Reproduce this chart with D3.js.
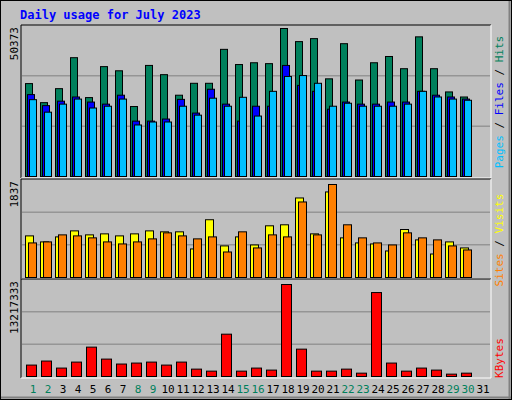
<!DOCTYPE html>
<html><head><meta charset="utf-8">
<script src="https://cdn.jsdelivr.net/npm/d3@7"></script>
<style>body{margin:0;background:#fff}</style>
</head><body>
<script>
const days = d3.range(1, 32)
const weekend = [1, 2, 8, 9, 15, 16, 22, 23, 29, 30]
const hits = [31200, 24800, 29500, 39900, 26500, 36900, 35500, 23500, 37300, 34200, 27300, 31300, 31300, 42700, 37600, 38200, 37900, 49700, 45300, 46300, 32800, 44600, 32400, 38200, 40300, 36200, 46900, 36200, 28400, 26700, 0]
const files = [27500, 23800, 25300, 26700, 25000, 24300, 27300, 18600, 18600, 19300, 25900, 21300, 29300, 24300, 18600, 23600, 23600, 37300, 30600, 28600, 22600, 25000, 24300, 24300, 25000, 25000, 28600, 27300, 26700, 26000, 0]
const pages = [25800, 21600, 24300, 26000, 23000, 23600, 26000, 17300, 18300, 18300, 23600, 20600, 26300, 23600, 26600, 20300, 28600, 33600, 33900, 31300, 23600, 24600, 23600, 23600, 23600, 24300, 28600, 26700, 26000, 25600, 0]
const visits = [822, 703, 802, 921, 842, 862, 822, 862, 921, 902, 902, 564, 1141, 624, 802, 643, 1021, 1041, 1571, 862, 1690, 783, 683, 663, 524, 948, 743, 464, 703, 584, 0]
const sites = [683, 703, 842, 822, 783, 703, 663, 703, 763, 882, 822, 763, 802, 504, 902, 584, 842, 802, 1492, 842, 1837, 1041, 783, 683, 643, 882, 783, 743, 624, 544, 0]
const kbytes = [1640000, 2220000, 1210000, 2070000, 4220000, 2500000, 1790000, 1930000, 2070000, 1640000, 2070000, 1060000, 770000, 6080000, 770000, 1210000, 920000, 13217333, 3930000, 770000, 770000, 1060000, 480000, 12060000, 1930000, 770000, 1210000, 920000, 340000, 480000, 0]

const W = 512, H = 400
const svg = d3.select('body').append('svg').attr('width', W).attr('height', H)
  .style('font-family', 'DejaVu Sans Mono, monospace')
svg.append('rect').attr('width', W).attr('height', H).attr('fill', '#c0c0c0')
svg.append('rect').attr('x', 0.5).attr('y', 0.5).attr('width', W - 1).attr('height', H - 1)
  .attr('fill', 'none').attr('stroke', '#000')
svg.append('line').attr('x1', 1).attr('x2', W - 1).attr('y1', H - 2.5).attr('y2', H - 2.5).attr('stroke', '#808080').attr('stroke-width', 2)
svg.append('line').attr('x1', W - 2.5).attr('x2', W - 2.5).attr('y1', 1).attr('y2', H - 1).attr('stroke', '#808080').attr('stroke-width', 2)

svg.append('text').attr('x', 20).attr('y', 19).text('Daily usage for July 2023')
  .attr('fill', '#0000ff').attr('font-weight', 'bold').attr('font-size', 12)

const x = d3.scaleLinear().domain([1, 32]).range([25, 25 + 15 * 31])

function panel (top, bottom, max, pad, label, series, rlabels, rmid) {
  svg.append('rect').attr('x', 21).attr('y', top).attr('width', 470).attr('height', bottom - top)
    .attr('fill', '#c0c0c0')
  const y = d3.scaleLinear().domain([0, max]).range([bottom - 2, top + pad])
  const step = (bottom - 2 - top) / 3
  ;[1, 2].forEach(k => svg.append('line').attr('x1', 22).attr('x2', 490)
    .attr('y1', bottom - 2 - step * k + 0.5).attr('y2', bottom - 2 - step * k + 0.5)
    .attr('stroke', '#808080'))
  series.forEach(s => {
    svg.append('g').selectAll('rect').data(s.data).join('rect')
      .attr('x', (d, i) => x(i + 1) + s.off + 0.5)
      .attr('y', d => y(d) + 0.5)
      .attr('width', s.w)
      .attr('height', d => y(0) - y(d))
      .attr('fill', s.color).attr('stroke', '#000')
  })
  svg.append('path').attr('d', `M21,${bottom}V${top}H491`).attr('fill', 'none').attr('stroke', '#000')
  svg.append('path').attr('d', `M491,${top}V${bottom}H21`).attr('fill', 'none').attr('stroke', '#fff')
  svg.append('text').attr('transform', `translate(18,${top + 2}) rotate(-90)`)
    .attr('text-anchor', 'end').attr('font-size', 11).text(label)
  const t = svg.append('text').attr('transform', `translate(503,${rmid}) rotate(-90)`)
    .attr('text-anchor', 'middle').attr('font-size', 11)
  rlabels.forEach((r, i) => {
    if (i) t.append('tspan').attr('fill', '#000').text(' / ')
    t.append('tspan').attr('fill', r[1]).text(r[0])
  })
}

panel(25, 178, 50373, 1, '50373', [
  { data: hits, off: 0, w: 7, color: '#00805c' },
  { data: files, off: 2, w: 7, color: '#0000ff' },
  { data: pages, off: 4, w: 7, color: '#00c0ff' }
], [['Pages', '#00c0ff'], ['Files', '#0000ff'], ['Hits', '#00805c']], 102)

panel(179, 279, 1837, 5, '1837', [
  { data: visits, off: 0, w: 8, color: '#ffff00' },
  { data: sites, off: 3, w: 8, color: '#ff8000' }
], [['Sites', '#ff8000'], ['Visits', '#ffff00']], 240)

panel(279, 378, 13217333, 5, '13217333', [
  { data: kbytes, off: 1, w: 10, color: '#ff0000' }
], [['KBytes', '#ff0000']], 358)

svg.append('g').selectAll('text').data(days).join('text')
  .attr('x', d => x(d) + 8).attr('y', 393).attr('text-anchor', 'middle').attr('font-size', 11)
  .attr('fill', d => weekend.includes(d) ? '#00805c' : '#000').text(d => d)
</script>
</body></html>
